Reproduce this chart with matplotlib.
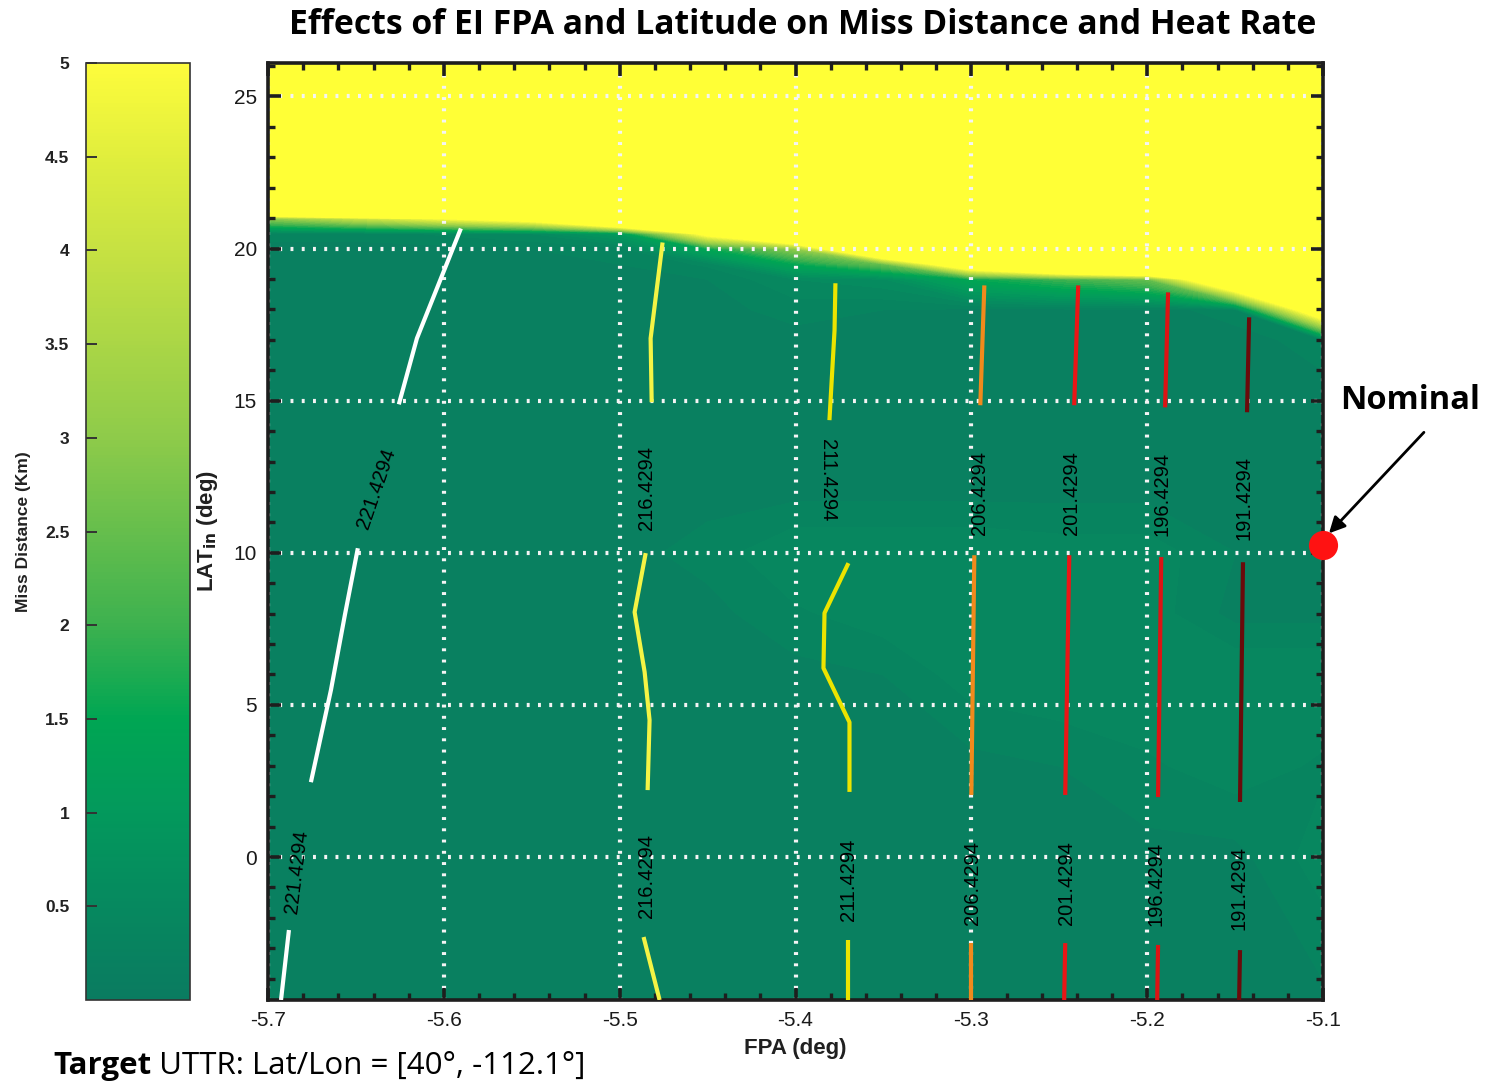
import numpy as np
import matplotlib
matplotlib.use("Agg")
import matplotlib.pyplot as plt
from matplotlib.colors import LinearSegmentedColormap, Normalize
from matplotlib.cm import ScalarMappable
from matplotlib.ticker import MultipleLocator, FixedLocator, FormatStrFormatter

plt.rcParams['axes.unicode_minus'] = False
plt.rcParams['font.family'] = ['Liberation Sans', 'DejaVu Sans']

# ---------------------------------------------------------------------------
# Sweep grid: entry flight-path angle (deg) x entry latitude (deg)
fpa_grid = [-5.70, -5.65, -5.60, -5.55, -5.50, -5.45, -5.40,
            -5.35, -5.30, -5.25, -5.20, -5.15, -5.10]
lat_grid = [-5, 0, 3, 6, 8, 10, 12, 15, 17, 18, 19, 19.5, 20, 20.5, 21, 21.5, 22, 27]

# Miss distance (km) at each latitude row (columns follow fpa_grid)
miss_km = [
    [0.20, 0.20, 0.20, 0.20, 0.20, 0.20, 0.20, 0.20, 0.20, 0.20, 0.20, 0.20, 0.20],   # -5
    [0.20, 0.20, 0.20, 0.20, 0.20, 0.20, 0.20, 0.20, 0.20, 0.20, 0.20, 0.20, 0.45],   # 0
    [0.20, 0.20, 0.20, 0.20, 0.20, 0.20, 0.20, 0.20, 0.20, 0.25, 0.35, 0.45, 0.35],   # 3
    [0.20, 0.20, 0.20, 0.20, 0.20, 0.20, 0.20, 0.25, 0.45, 0.50, 0.50, 0.50, 0.50],   # 6
    [0.20, 0.20, 0.20, 0.20, 0.20, 0.20, 0.35, 0.45, 0.50, 0.50, 0.45, 0.20, 0.20],   # 8
    [0.20, 0.20, 0.20, 0.20, 0.20, 0.30, 0.50, 0.50, 0.50, 0.45, 0.45, 0.25, 0.20],   # 10
    [0.20, 0.20, 0.20, 0.20, 0.20, 0.20, 0.20, 0.20, 0.20, 0.20, 0.20, 0.20, 0.20],   # 12
    [0.20, 0.20, 0.20, 0.20, 0.20, 0.20, 0.20, 0.20, 0.20, 0.20, 0.20, 0.20, 0.20],   # 15
    [0.20, 0.20, 0.20, 0.20, 0.20, 0.20, 0.20, 0.20, 0.20, 0.20, 0.20, 0.20, 0.30],   # 17
    [0.20, 0.20, 0.20, 0.20, 0.20, 0.20, 0.30, 0.25, 0.20, 0.20, 0.20, 0.30, 7.00],   # 18
    [0.20, 0.20, 0.20, 0.20, 0.20, 0.25, 0.50, 0.60, 1.50, 2.00, 2.50, 8.00, 30.0],   # 19
    [0.20, 0.20, 0.20, 0.20, 0.25, 0.40, 1.50, 2.50, 7.00, 10.0, 12.0, 30.0, 30.0],   # 19.5
    [0.20, 0.20, 0.20, 0.25, 0.30, 1.50, 3.00, 9.00, 30.0, 30.0, 30.0, 30.0, 30.0],   # 20
    [0.30, 0.30, 0.40, 0.50, 1.00, 5.50, 9.00, 30.0, 30.0, 30.0, 30.0, 30.0, 30.0],   # 20.5
    [3.00, 4.00, 5.00, 6.00, 10.0, 20.0, 30.0, 30.0, 30.0, 30.0, 30.0, 30.0, 30.0],   # 21
    [15.0, 20.0, 30.0, 30.0, 30.0, 30.0, 30.0, 30.0, 30.0, 30.0, 30.0, 30.0, 30.0],   # 21.5
    [30.0, 30.0, 30.0, 30.0, 30.0, 30.0, 30.0, 30.0, 30.0, 30.0, 30.0, 30.0, 30.0],   # 22
    [30.0, 30.0, 30.0, 30.0, 30.0, 30.0, 30.0, 30.0, 30.0, 30.0, 30.0, 30.0, 30.0],   # 27
]

# Peak heat-rate contour levels and their line colours
heat_levels = [221.4294, 216.4294, 211.4294, 206.4294, 201.4294, 196.4294, 191.4294]
heat_colors = ['#ffffff', '#f4f445', '#ece400', '#f08a1c', '#ea1616', '#dc1414', '#6a0b0b']

# Contour traces (FPA, LAT), split into the pieces between inline labels:
# (upper, middle, lower) for each level
heat_fpa = [
    ([-5.6256, -5.6153, -5.5903], [-5.6756, -5.6642, -5.6563, -5.6489], [-5.6926, -5.6881]),
    ([-5.4818, -5.4824, -5.4756], [-5.4841, -5.4830, -5.4858, -5.4915, -5.4852], [-5.4773, -5.4864]),
    ([-5.3807, -5.3778, -5.3773], [-5.3693, -5.3693, -5.3841, -5.3835, -5.3699], [-5.3699, -5.3699]),
    ([-5.2949, -5.2926], [-5.3000, -5.2983], [-5.3000, -5.3000]),
    ([-5.2415, -5.2392], [-5.2466, -5.2443], [-5.2472, -5.2466]),
    ([-5.1898, -5.1881], [-5.1938, -5.1920], [-5.1943, -5.1938]),
    ([-5.1432, -5.1420], [-5.1472, -5.1455], [-5.1477, -5.1472]),
]
heat_lat = [
    ([14.88, 17.05, 20.66], [2.46, 5.49, 7.95, 10.15], [-4.70, -2.40]),
    ([14.95, 17.05, 20.20], [2.20, 4.50, 6.08, 8.05, 9.99], [-4.70, -2.63]),
    ([14.36, 17.31, 18.86], [2.14, 4.43, 6.21, 8.02, 9.66], [-4.70, -2.73]),
    ([14.85, 18.79], [2.04, 9.92], [-4.70, -2.83]),
    ([14.85, 18.79], [2.04, 9.92], [-4.70, -2.83]),
    ([14.78, 18.56], [1.97, 9.86], [-4.70, -2.89]),
    ([14.62, 17.74], [1.81, 9.69], [-4.70, -3.06]),
]

# Inline label anchors (FPA, LAT, rotation) : upper and lower label per level
label_upper = [(-5.6386, 12.12, 71), (-5.4847, 12.12, 90), (-5.3818, 12.39, -90),
               (-5.2955, 11.96, 90), (-5.2432, 11.96, 90), (-5.1915, 11.93, 90),
               (-5.1449, 11.79, 90)]
label_lower = [(-5.6835, -0.49, 83), (-5.4847, -0.62, 90), (-5.3699, -0.76, 90),
               (-5.2994, -0.85, 90), (-5.2460, -0.85, 90), (-5.1949, -0.89, 90),
               (-5.1477, -1.02, 90)]

# Nominal entry point
nominal_fpa = -5.10
nominal_lat = 10.25

x_ticks = [-5.7, -5.6, -5.5, -5.4, -5.3, -5.2, -5.1]
y_ticks = [0, 5, 10, 15, 20, 25]
cbar_ticks = [0.5, 1, 1.5, 2, 2.5, 3, 3.5, 4, 4.5, 5]

# ---------------------------------------------------------------------------
W, H = 1489, 1081
fig = plt.figure(figsize=(W / 100, H / 100), dpi=100)

cmap = LinearSegmentedColormap.from_list('miss', [
    (0.00, '#0a7b60'), (0.10, '#06895f'), (0.20, '#03995c'), (0.30, '#00a653'),
    (0.40, '#3db14f'), (0.60, '#8ecb4a'), (0.80, '#c6e142'), (0.90, '#e0ee3d'),
    (1.00, '#fdfc3c')])
cmap.set_over('#ffff36')
norm = Normalize(vmin=0, vmax=5)

ax = fig.add_axes([268 / W, 1 - 1000 / H, (1323 - 268) / W, (1000 - 63) / H])
cax = fig.add_axes([86 / W, 1 - 1000 / H, (190 - 86) / W, (1000 - 63) / H])

# Miss-distance field
F, L = np.meshgrid(fpa_grid, lat_grid)
cs = ax.contourf(F, L, np.array(miss_km), levels=np.linspace(0, 5, 41), cmap=cmap,
                 norm=norm, extend='max', zorder=0)
cs.set_edgecolor('face')
cs.set_linewidth(0.6)

ax.set_xlim(-5.7, -5.1)
ax.set_ylim(-4.7, 26.1)

# Grid, ticks, frame
ax.grid(True, which='major', color='#f4f4f4', linestyle=(0, (0.7, 2.0)), linewidth=3.0)
ax.xaxis.set_major_locator(FixedLocator(x_ticks))
ax.yaxis.set_major_locator(FixedLocator(y_ticks))
ax.xaxis.set_minor_locator(MultipleLocator(0.02))
ax.yaxis.set_minor_locator(MultipleLocator(1))
ax.xaxis.set_major_formatter(FormatStrFormatter('%.1f'))
ax.yaxis.set_major_formatter(FormatStrFormatter('%d'))
ax.tick_params(which='both', direction='in', top=True, right=True, color='#1e1e1e')
ax.tick_params(which='major', length=9, width=2.6, labelsize=15, labelcolor='#1a1a1a', pad=8)
ax.tick_params(which='minor', length=5, width=2.4)
for s in ax.spines.values():
    s.set_linewidth(2.6)
    s.set_color('#1e1e1e')

ax.set_xlabel('FPA (deg)', fontsize=16, fontweight='bold', color='#202020', labelpad=6)
ax.set_ylabel(r'LAT$_{\mathbf{in}}$ (deg)', fontsize=16, fontweight='bold', color='#202020', labelpad=10)

# Heat-rate contours with inline labels
for i, lvl in enumerate(heat_levels):
    for xs, ys in zip(heat_fpa[i], heat_lat[i]):
        ax.plot(xs, ys, color=heat_colors[i], lw=3.0, solid_capstyle='butt', zorder=3)
    for fx, fy, rot in (label_upper[i], label_lower[i]):
        ax.text(fx, fy, f'{lvl:.4f}', rotation=rot, ha='center', va='center',
                fontsize=14.5, color='black', zorder=4, rotation_mode='anchor')

# Nominal point and callout
ax.plot([nominal_fpa], [nominal_lat], 'o', ms=21, color='#ff1212', mec='none',
        clip_on=False, zorder=10)
ax.annotate('', xy=(-5.0966, 10.64), xytext=(-5.0426, 13.96),
            arrowprops=dict(arrowstyle='-|>', color='black', lw=2.0,
                            mutation_scale=24, shrinkA=0, shrinkB=0),
            annotation_clip=False, zorder=11)
ax.text(-5.0506, 15.0, 'Nominal', ha='center', va='center', fontfamily='Open Sans',
        fontweight='bold', fontsize=23.5, color='black', clip_on=False)

# Colour bar
cb = fig.colorbar(ScalarMappable(norm=norm, cmap=cmap), cax=cax, ticks=cbar_ticks)
cb.outline.set_linewidth(1.2)
cb.outline.set_edgecolor('#333333')
cax.yaxis.set_ticks_position('left')
cax.yaxis.set_label_position('left')
cax.set_yticklabels([('%g' % t) for t in cbar_ticks])
cax.tick_params(direction='in', length=8, width=1.4, color='#333333', labelsize=12.5,
                labelcolor='#222222', pad=12)
for t in cax.get_yticklabels():
    t.set_fontweight('bold')
cax.set_ylabel('Miss Distance (Km)', fontsize=12.5, fontweight='bold', color='#222222', labelpad=10)

# Title and footer
fig.text(803 / W, 1 - 25 / H, 'Effects of EI FPA and Latitude on Miss Distance and Heat Rate',
         ha='center', va='center', fontfamily='Open Sans', fontweight='bold', fontsize=24.3)
t1 = fig.text(53 / W, 1 - 1066 / H, 'Target', ha='left', va='center',
              fontfamily='Open Sans', fontweight='bold', fontsize=22.5)
fig.canvas.draw()
bb = t1.get_window_extent()
fig.text(bb.x1 / W, 1 - 1066 / H, ' UTTR: Lat/Lon = [40\u00b0, -112.1\u00b0]', ha='left', va='center',
         fontfamily='Open Sans', fontsize=22.5)

fig.savefig('out.png', dpi=100)
